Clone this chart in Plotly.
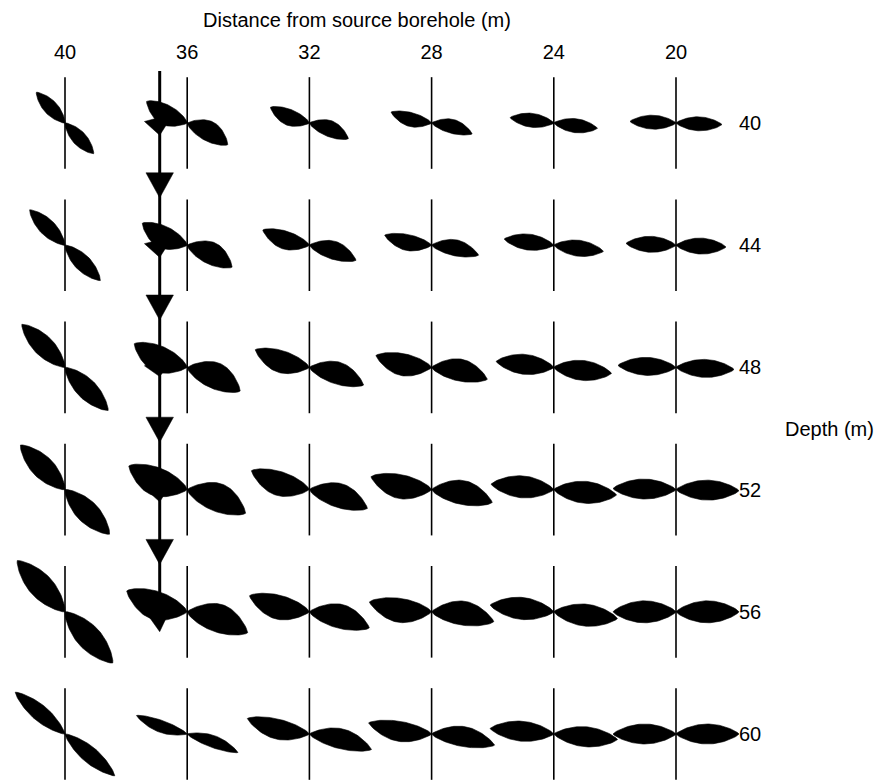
import numpy as np
import plotly.graph_objects as go

# ---------------- data ----------------
distances = [40, 36, 32, 28, 24, 20]          # distance from source borehole (m)
depths = [40, 44, 48, 52, 56, 60]             # depth (m)

# polarisation tilt of each particle-motion glyph (deg, down-to-the-right positive)
tilt_d40 = [47, 28, 22, 15, 7, 2]
tilt_d44 = [45, 26, 18, 12, 7, 2]
tilt_d48 = [45, 24, 18, 12, 6, 2]
tilt_d52 = [45, 22, 18, 12, 5, 1]
tilt_d56 = [47, 19, 15, 9, 6, 0]
tilt_d60 = [40, 20, 14, 10, 5, 0]

# lobe amplitude (relative units)
amp_d40 = [42, 46, 42, 42, 44, 46]
amp_d44 = [50, 50, 49, 48, 50, 50]
amp_d48 = [61, 58, 57, 57, 58, 58]
amp_d52 = [63, 63, 61, 62, 63, 63]
amp_d56 = [70, 64, 62, 63, 64, 63]
amp_d60 = [65, 54, 64, 64, 64, 63]

# lobe (minor-axis) amplitude (relative units)
minor_d40 = [7, 10, 8, 7, 7, 7]
minor_d44 = [8, 11, 9, 8, 8, 8]
minor_d48 = [10, 13, 11, 11, 10, 9]
minor_d52 = [11, 14, 12, 12, 11, 10]
minor_d56 = [12, 14, 12, 12, 11, 11]
minor_d60 = [8, 6, 10, 10, 10, 10]

source_distance = 36.9          # downward-travelling source trace
source_top, source_bottom = 38.3, 55.6
arrow_depths = [40, 44, 48, 52]             # arrowheads below these rows
spur_depths = [40, 44, 48, 52, 56]          # trace crossing the glyph
spur_reach = [0.4, 0.4, 0.3, 0.4, 0.65]

tilts = [tilt_d40, tilt_d44, tilt_d48, tilt_d52, tilt_d56, tilt_d60]
amps = [amp_d40, amp_d44, amp_d48, amp_d52, amp_d56, amp_d60]
minors = [minor_d40, minor_d44, minor_d48, minor_d52, minor_d56, minor_d60]

# ---------------- geometry / layout ----------------
W_PX, H_PX = 880, 784
M_TOP = 64
PX_PER_M = 30.55
X40_PX, Y40_PX = 65, 123
x_range = [40 + X40_PX / PX_PER_M, 40 - (W_PX - X40_PX) / PX_PER_M]
y_range = [40 + (H_PX - Y40_PX) / PX_PER_M, 40 - (Y40_PX - M_TOP) / PX_PER_M]
U = 1.0 / PX_PER_M            # relative unit -> plot metres
LINE_HALF = 1.5               # half-length of the vertical reference lines (m)


def glyph(d, z, theta_deg, L, Wd):
    th = np.radians(theta_deg)
    ux, uy = np.cos(th), np.sin(th)
    nx, ny = -np.sin(th), np.cos(th)
    k = 0.3 if 8 <= theta_deg <= 32 else 0.0
    t = np.linspace(0, 1, 41)
    w = Wd * np.sin(np.pi * t) ** 0.75
    c = -k * Wd * np.sin(np.pi * t)
    ax = t * L * ux
    ay = t * L * uy
    up_x, up_y = ax + (c + w) * nx, ay + (c + w) * ny
    lo_x, lo_y = ax + (c - w) * nx, ay + (c - w) * ny
    rx = np.concatenate([up_x, lo_x[::-1]])
    ry = np.concatenate([up_y, lo_y[::-1]])
    sx = np.concatenate([rx, -rx])
    sy = np.concatenate([ry, -ry])
    xs = d - sx * U
    ys = z + sy * U
    return list(xs) + [None], list(ys) + [None]


gx, gy = [], []
lx, ly = [], []
for i, z in enumerate(depths):
    for j, d in enumerate(distances):
        a, b = glyph(d, z, tilts[i][j], amps[i][j], minors[i][j])
        gx += a
        gy += b
        lx += [d, d, None]
        ly += [z - LINE_HALF, z + LINE_HALF, None]

# arrowheads of the source trace
hx, hy = [], []
for z in arrow_depths:
    tip = z + 2.45
    hx += [source_distance - 0.45, source_distance + 0.45, source_distance, source_distance - 0.45, None]
    hy += [tip - 0.82, tip - 0.82, tip, tip - 0.82, None]
for z, r in zip(spur_depths, spur_reach):
    hx += [source_distance - 0.45, source_distance + 0.5, source_distance, source_distance - 0.45, None]
    hy += [z - 0.3, z - 0.05, z + r, z - 0.3, None]

fig = go.Figure()
fig.add_trace(go.Scatter(x=lx, y=ly, mode="lines", line=dict(color="black", width=1.6),
                         hoverinfo="skip", showlegend=False))
fig.add_trace(go.Scatter(x=gx, y=gy, mode="lines", fill="toself", fillcolor="black",
                         line=dict(color="black", width=0.6), hoverinfo="skip", showlegend=False))
fig.add_trace(go.Scatter(x=[source_distance, source_distance], y=[source_top, source_bottom],
                         mode="lines", line=dict(color="black", width=3),
                         hoverinfo="skip", showlegend=False))
fig.add_trace(go.Scatter(x=hx, y=hy, mode="lines", fill="toself", fillcolor="black",
                         line=dict(color="black", width=0.5), hoverinfo="skip", showlegend=False))

FONT = "Liberation Sans, Arial, Helvetica, sans-serif"
fig.update_layout(
    width=W_PX, height=H_PX,
    margin=dict(l=0, r=0, t=M_TOP, b=0, autoexpand=False),
    paper_bgcolor="white", plot_bgcolor="white",
    font=dict(family=FONT, size=20, color="black"),
    title=dict(text="Distance from source borehole (m)", x=357 / W_PX, xanchor="center",
               y=1 - 20 / H_PX, yanchor="middle", font=dict(size=20, family=FONT, color="black")),
    xaxis=dict(range=x_range, side="top", tickvals=distances, ticktext=[str(v) for v in distances],
               showgrid=False, zeroline=False, showline=False, ticks="",
               tickfont=dict(size=20, family=FONT, color="black"), fixedrange=True),
    yaxis=dict(range=y_range, side="right", anchor="free", position=738 / W_PX,
               tickvals=depths, ticktext=[str(v) for v in depths],
               showgrid=False, zeroline=False, showline=False, ticks="",
               tickfont=dict(size=20, family=FONT, color="black"), fixedrange=True),
    annotations=[dict(text="Depth (m)", x=829 / W_PX, xref="paper", y=50.0, yref="y",
                      xanchor="center", yanchor="middle", showarrow=False,
                      font=dict(size=20, family=FONT, color="black"))],
    hovermode=False,
)

fig.write_html("out.html", config={"displayModeBar": False},
               post_script="document.body.style.margin='0';")
